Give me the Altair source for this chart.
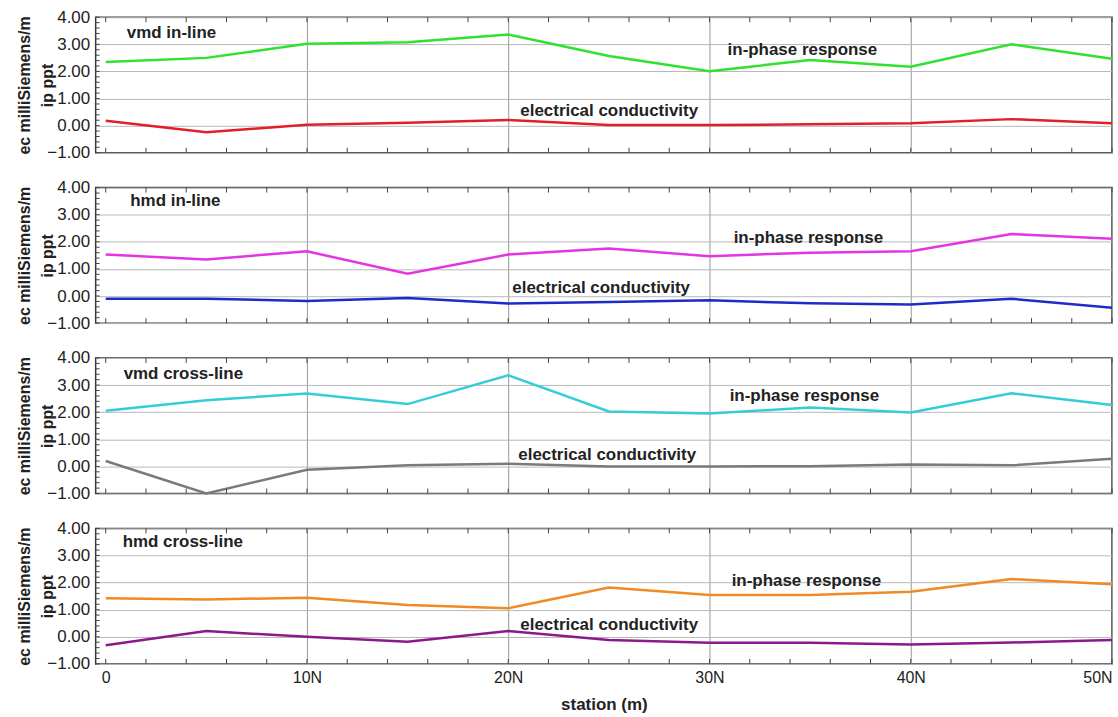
import altair as alt
import pandas as pd

# Survey stations along the line (m)
stations = [0, 5, 10, 15, 20, 25, 30, 35, 40, 45, 50]

panel_names = ["vmd in-line", "hmd in-line", "vmd cross-line", "hmd cross-line"]

# In-phase response (ppt) per configuration
ip_vmd_in = [2.35, 2.50, 3.02, 3.08, 3.36, 2.57, 2.01, 2.42, 2.17, 3.00, 2.47]
ip_hmd_in = [1.53, 1.35, 1.65, 0.82, 1.53, 1.75, 1.47, 1.60, 1.65, 2.29, 2.11]
ip_vmd_cross = [2.05, 2.44, 2.69, 2.30, 3.36, 2.03, 1.95, 2.17, 1.99, 2.70, 2.27]
ip_hmd_cross = [1.42, 1.38, 1.44, 1.17, 1.05, 1.82, 1.54, 1.54, 1.66, 2.13, 1.94]

# Electrical conductivity (mS/m) per configuration
ec_vmd_in = [0.18, -0.24, 0.03, 0.11, 0.21, 0.02, 0.02, 0.05, 0.09, 0.24, 0.09]
ec_hmd_in = [-0.10, -0.10, -0.18, -0.07, -0.28, -0.22, -0.16, -0.27, -0.31, -0.10, -0.43]
ec_vmd_cross = [0.20, -1.00, -0.12, 0.04, 0.10, 0.00, 0.00, 0.01, 0.07, 0.04, 0.28]
ec_hmd_cross = [-0.31, 0.21, 0.00, -0.18, 0.21, -0.12, -0.22, -0.22, -0.28, -0.21, -0.12]

ip_series = [ip_vmd_in, ip_hmd_in, ip_vmd_cross, ip_hmd_cross]
ec_series = [ec_vmd_in, ec_hmd_in, ec_vmd_cross, ec_hmd_cross]

ip_colors = ["#2fe22f", "#e434e4", "#34cdd6", "#f08a26"]
ec_colors = ["#e21f27", "#1f2bc9", "#7a7a7a", "#8a1a8c"]

# Label anchors (station, value) for each panel
title_pos = [(1.05, 3.42), (1.22, 3.52), (0.89, 3.40), (0.84, 3.48)]
ip_label_pos = [(30.9, 2.79), (31.2, 2.14), (31.0, 2.60), (31.1, 2.07)]
ec_label_pos = [(20.6, 0.54), (20.2, 0.28), (20.5, 0.43), (20.6, 0.43)]

x_labels_at = [0, 10, 20, 30, 40, 50]
y_labels_at = [-1, 0, 1, 2, 3, 4]
x_minor = list(range(0, 51, 2))
y_minor = [round(-1 + 0.2 * i, 1) for i in range(26)]

W, H = 1020, 136
FONT = "Liberation Sans"
INK = "#222222"

x_scale = alt.Scale(domain=[-0.5, 50], nice=False, zero=False)
y_scale = alt.Scale(domain=[-1, 4], nice=False, zero=False)

Y_TITLE = ["ec milliSiemens/m", "ip ppt"]


def panel(i, last):
    df = pd.DataFrame({"station": stations, "ip": ip_series[i], "ec": ec_series[i]})

    x_axis_kw = dict(
        values=x_labels_at,
        grid=True,
        gridColor="#9a9a9a",
        gridWidth=1,
        gridOpacity={"condition": {"test": "datum.value == 0", "value": 0}, "value": 1},
        ticks=False,
        domain=False,
        labels=last,
    )
    if last:
        x_axis_kw.update(
            labelExpr="datum.value == 0 ? '0' : datum.value + 'N'",
            labelFontSize=16,
            labelColor=INK,
            labelPadding=6,
            labelFlush=1,
            titleFontSize=17,
            titleFontWeight="bold",
            titleColor=INK,
            titlePadding=11,
        )
    x_axis = alt.Axis(**x_axis_kw)
    y_axis = alt.Axis(
        values=y_labels_at,
        format=".2f",
        grid=True,
        gridColor="#b8b8b8",
        gridWidth=1,
        ticks=False,
        domain=False,
        labelFontSize=17,
        labelColor=INK,
        labelPadding=6,
        titleFontSize=16,
        titleFontWeight="bold",
        titleColor=INK,
        titlePadding=-9,
        titleLineHeight=23,
    )
    x_title = "station (m)" if last else None

    def xf(name):
        return alt.X(name, scale=x_scale, axis=x_axis, title=x_title)

    def yf(name):
        return alt.Y(name, scale=y_scale, axis=y_axis, title=Y_TITLE)

    ip_line = alt.Chart(df).mark_line(color=ip_colors[i], strokeWidth=2.5).encode(
        x=xf("station:Q"), y=yf("ip:Q")
    )
    ec_line = alt.Chart(df).mark_line(color=ec_colors[i], strokeWidth=2.5).encode(
        x=xf("station:Q"), y=yf("ec:Q")
    )

    # inward tick marks on the frame
    xt = pd.DataFrame({"t": x_minor})
    yt = pd.DataFrame({"t": y_minor})
    top_ticks = alt.Chart(xt).mark_rule(color="#444", strokeWidth=1).encode(
        x=xf("t:Q"), y=alt.value(0), y2=alt.value(5)
    )
    bottom_ticks = alt.Chart(xt).mark_rule(color="#444", strokeWidth=1).encode(
        x=xf("t:Q"), y=alt.value(H), y2=alt.value(H - 5)
    )
    left_ticks = alt.Chart(yt).mark_rule(color="#444", strokeWidth=1).encode(
        y=yf("t:Q"), x=alt.value(0), x2=alt.value(4)
    )

    labels = pd.DataFrame(
        {
            "x": [title_pos[i][0], ip_label_pos[i][0], ec_label_pos[i][0]],
            "y": [title_pos[i][1], ip_label_pos[i][1], ec_label_pos[i][1]],
            "text": [panel_names[i], "in-phase response", "electrical conductivity"],
        }
    )
    text = alt.Chart(labels).mark_text(
        align="left", baseline="middle", fontSize=17, fontWeight="bold", font=FONT, color=INK
    ).encode(x=xf("x:Q"), y=yf("y:Q"), text="text:N")

    return alt.layer(ip_line, ec_line, top_ticks, bottom_ticks, left_ticks, text).properties(
        width=W, height=H
    )


chart = (
    alt.vconcat(*[panel(i, i == 3) for i in range(4)], spacing=16)
    .properties(padding={"left": 16, "top": 6, "right": 0, "bottom": 1}, background="white")
    .configure_view(stroke="#3a3a3a", strokeWidth=1.5)
    .configure_axis(labelFont=FONT, titleFont=FONT)
)

chart.save("out.html", embed_options={"renderer": "svg", "actions": False})
